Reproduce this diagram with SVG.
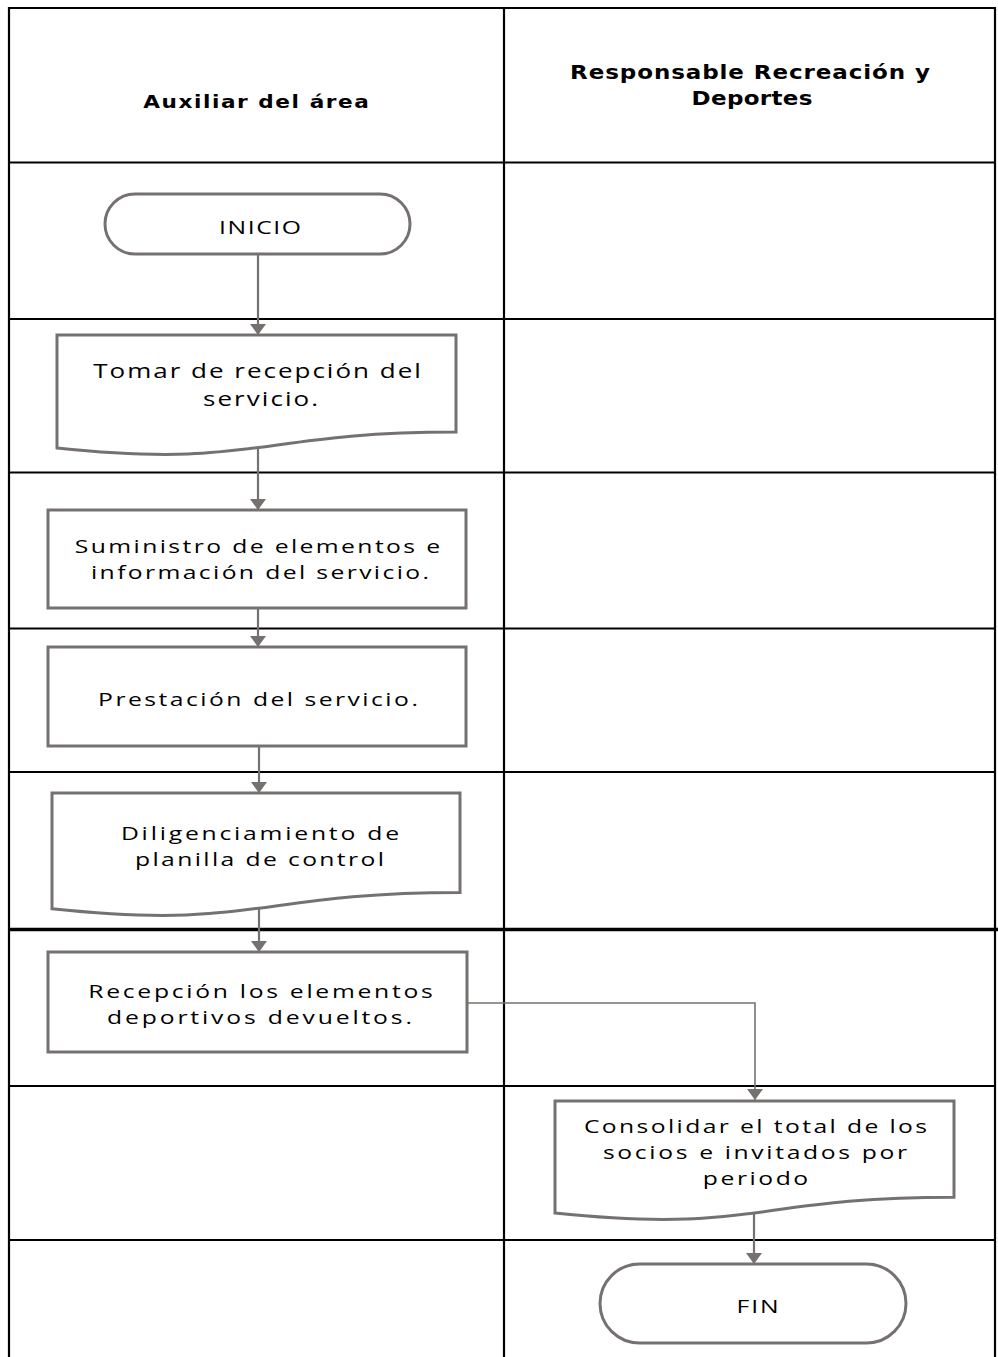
<svg xmlns="http://www.w3.org/2000/svg" width="998" height="1357" viewBox="0 0 998 1357">
<defs>
<style>
.grid{stroke:#000;stroke-width:2.2;fill:none}
.shape{fill:#fff;stroke:#767171;stroke-width:3}
.conn{fill:none;stroke:#767171;stroke-width:2.2}
.thin{stroke-width:1.6}
.hdr{font-family:"DejaVu Sans","Liberation Sans",sans-serif;font-weight:bold;fill:#000;text-anchor:middle}
.lbl{font-family:"Open Sans","Liberation Sans",sans-serif;fill:#000;text-anchor:middle;font-size:19px}
</style>
<marker id="arr" markerUnits="userSpaceOnUse" viewBox="0 0 11 16" markerWidth="11" markerHeight="16" refX="11" refY="8" orient="auto">
<path d="M0,0 L11,8 L0,16 Z" fill="#767171"/>
</marker>
</defs>
<rect width="998" height="1357" fill="#fff"/>
<g id="grid">
<path class="grid" d="M9,8 H995 M9,7 V1357 M995,7 V1357 M504,8 V1357"/>
<path class="grid" d="M9,162.5 H995 M9,319 H995 M9,472.5 H995 M9,628.5 H995 M9,772 H995 M9,1086 H995 M9,1240 H995"/>
<path d="M9,929.5 H998" stroke="#000" stroke-width="3.5"/>
</g>
<g id="headers">
<text class="hdr" transform="translate(256,108) scale(1.2,1)" font-size="18" textLength="188" lengthAdjust="spacing">Auxiliar del área</text>
<text class="hdr" transform="translate(750,79) scale(1.18,1)" font-size="19.5" textLength="305" lengthAdjust="spacing">Responsable  Recreación  y</text>
<text class="hdr" transform="translate(752,105) scale(1.18,1)" font-size="19.5" textLength="102.5" lengthAdjust="spacing">Deportes</text>
</g>
<g id="connectors">
<path class="conn" d="M258,254 V335" marker-end="url(#arr)"/>
<path class="conn" d="M258,448 V510" marker-end="url(#arr)"/>
<path class="conn" d="M258,609 V647" marker-end="url(#arr)"/>
<path class="conn" d="M259,746 V793" marker-end="url(#arr)"/>
<path class="conn" d="M259,908 V952" marker-end="url(#arr)"/>
<path class="conn thin" d="M467,1003 H755 V1100" marker-end="url(#arr)"/>
<path class="conn" d="M754,1212 V1264" marker-end="url(#arr)"/>
</g>
<g id="inicio">
<rect class="shape" x="105" y="194" width="305" height="60" rx="30" ry="30"/>
<text class="lbl" transform="translate(260,234) scale(1.3,1)" textLength="63" lengthAdjust="spacing">INICIO</text>
</g>
<g id="tomar">
<path class="shape" d="M57,335 H456 V432 C256.5,432 256.5,469 57,448 Z"/>
<text class="lbl" transform="translate(257,378) scale(1.3,1)" style="font-size:20px" textLength="252" lengthAdjust="spacing">Tomar de recepción del</text>
<text class="lbl" transform="translate(260.5,406) scale(1.3,1)" style="font-size:20px" textLength="88.5" lengthAdjust="spacing">servicio.</text>
</g>
<g id="suministro">
<rect class="shape" x="48" y="510" width="418" height="98"/>
<text class="lbl" transform="translate(257.5,553) scale(1.3,1)" textLength="281" lengthAdjust="spacing">Suministro de elementos e</text>
<text class="lbl" transform="translate(260,579) scale(1.3,1)" textLength="260" lengthAdjust="spacing">información del servicio.</text>
</g>
<g id="prestacion">
<rect class="shape" x="48" y="647" width="418" height="99"/>
<text class="lbl" transform="translate(258,706) scale(1.3,1)" textLength="246" lengthAdjust="spacing">Prestación del servicio.</text>
</g>
<g id="diligenciamiento">
<path class="shape" d="M52,793 H460 V892.4 C256,892.4 256,930.3 52,908.8 Z"/>
<text class="lbl" transform="translate(260,840) scale(1.3,1)" textLength="214" lengthAdjust="spacing">Diligenciamiento de</text>
<text class="lbl" transform="translate(259.5,866) scale(1.3,1)" textLength="191.5" lengthAdjust="spacing">planilla de control</text>
</g>
<g id="recepcion">
<rect class="shape" x="48" y="952" width="419" height="100"/>
<text class="lbl" transform="translate(260.5,998) scale(1.3,1)" textLength="265" lengthAdjust="spacing">Recepción los elementos</text>
<text class="lbl" transform="translate(259.5,1024) scale(1.3,1)" textLength="234.5" lengthAdjust="spacing">deportivos devueltos.</text>
</g>
<g id="consolidar">
<path class="shape" d="M555,1101 H954 V1197.2 C754.5,1197.2 754.5,1233.9 555,1213.1 Z"/>
<text class="lbl" transform="translate(755.5,1133) scale(1.3,1)" textLength="264" lengthAdjust="spacing">Consolidar el total de los</text>
<text class="lbl" transform="translate(755,1159) scale(1.3,1)" textLength="234" lengthAdjust="spacing">socios e invitados por</text>
<text class="lbl" transform="translate(755.5,1185) scale(1.3,1)" textLength="81" lengthAdjust="spacing">periodo</text>
</g>
<g id="fin">
<rect class="shape" x="600" y="1264" width="306" height="79" rx="39.5" ry="39.5"/>
<text class="lbl" transform="translate(757.5,1313) scale(1.3,1)" textLength="32.3" lengthAdjust="spacing">FIN</text>
</g>
</svg>
